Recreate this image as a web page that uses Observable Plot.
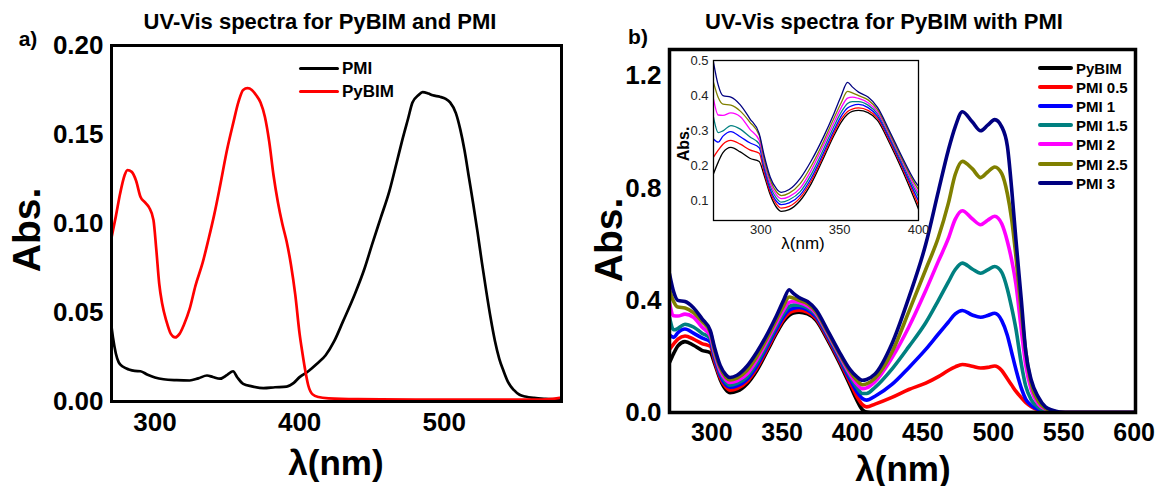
<!DOCTYPE html>
<html><head><meta charset="utf-8">
<script src="https://cdn.jsdelivr.net/npm/d3@7"></script>
<script src="https://cdn.jsdelivr.net/npm/@observablehq/plot@0.6"></script>
<style>
body{margin:0;background:#fff;}
#root{position:relative;width:1157px;height:486px;overflow:hidden;background:#fff;font-family:"Liberation Sans",Arial,sans-serif;}
.t{position:absolute;white-space:nowrap;font-weight:bold;color:#000;line-height:1;}
.c{transform:translate(-50%,-50%);}
.r{transform:translate(-50%,-50%) rotate(-90deg);}
.box{position:absolute;}
</style></head><body><div id="root"></div>
<script>
// ---------- Panel a data ----------
const titleA = "UV-Vis spectra for PyBIM and PMI";
const seriesA = ["PMI", "PyBIM"];
const colorsA = ["#000000", "#ff0000"];
const xTicksA = [300, 400, 500];
const yTicksA = [0, 0.05, 0.10, 0.15, 0.20];
const wlA_PMI = [270,271,273,275,278,282,286,290,295,300,306,315,324,330,336,340,345,350,354,357,361,367,375,383,391,396,400,406,412,418,424,430,438,445,450,456,462,467,471,475,478,482,485,489,492,497,501,504,508,511,514,517,520,523,526,529,532,535,538,541,544,548,552,556,562,570,581];
const absA_PMI = [0.042,0.036,0.027,0.022,0.0195,0.018,0.0172,0.017,0.015,0.0135,0.0125,0.012,0.0118,0.013,0.0146,0.0138,0.0128,0.015,0.017,0.0135,0.0099,0.0085,0.0075,0.008,0.0084,0.0105,0.0137,0.017,0.0212,0.026,0.034,0.045,0.060,0.075,0.088,0.103,0.118,0.134,0.147,0.159,0.168,0.172,0.1738,0.173,0.172,0.1712,0.170,0.168,0.162,0.153,0.141,0.126,0.111,0.095,0.078,0.062,0.047,0.034,0.024,0.017,0.011,0.0065,0.0038,0.0028,0.002,0.0015,0.0012];
const wlA_PyBIM = [270,273,276,279,281,284,287,290,293,296,299,301,303,305,308,311,314,317,320,324,328,333,337,341,345,350,354,358,361,364,367,370,373,376,379,382,385,388,391,394,397,400,402,404,406,409,413,420,440,480,520,560,575,581];
const absA_PyBIM = [0.092,0.104,0.117,0.127,0.130,0.129,0.124,0.115,0.112,0.109,0.102,0.085,0.066,0.055,0.045,0.038,0.036,0.038,0.043,0.052,0.065,0.078,0.091,0.105,0.121,0.142,0.156,0.169,0.175,0.176,0.175,0.172,0.168,0.160,0.146,0.127,0.112,0.100,0.090,0.077,0.060,0.038,0.027,0.017,0.009,0.004,0.0025,0.0018,0.0013,0.0011,0.0010,0.0010,0.0015,0.0022];

// ---------- Panel b data ----------
const titleB = "UV-Vis spectra for PyBIM with PMI";
const seriesB = ["PyBIM", "PMI 0.5", "PMI 1", "PMI 1.5", "PMI 2", "PMI 2.5", "PMI 3"];
const colorsB = ["#000000", "#ff0000", "#0000ff", "#008080", "#ff00ff", "#808000", "#000080"];
const xTicksB = [300, 350, 400, 450, 500, 550, 600];
const yTicksB = [0, 0.4, 0.8, 1.2];
const xTicksInset = [300, 350, 400];
const yTicksInset = [0.1, 0.2, 0.3, 0.4, 0.5];
const wlB = [270,273,276,281,287,293,299,302,306,310,313,318,325,332,340,346,351,355,358,362,368,374,382,390,398,403,407,410,416,428,440,452,461,468,473,478,485,491,496,501,506,510,513,516,520,523,527,532,537,542,547,555,570,600];
const absB_PyBIM = [0.178,0.211,0.238,0.253,0.240,0.222,0.213,0.175,0.118,0.082, 0.071,0.076,0.102,0.150,0.225,0.283,0.325,0.347,0.355,0.358, 0.352,0.330,0.262,0.185,0.100,0.045,0.010,0.002,0,0, 0,0,0,0,0,0,0,0,0,0, 0,0,0,0,0,0,0,0,0,0, 0,0,0,0];
const absB_PMI05 = [0.225,0.245,0.262,0.273,0.262,0.246,0.236,0.185,0.125,0.091, 0.080,0.085,0.110,0.158,0.232,0.290,0.333,0.355,0.362,0.365, 0.358,0.336,0.268,0.192,0.110,0.058,0.028,0.020,0.030,0.054, 0.082,0.105,0.128,0.150,0.163,0.171,0.165,0.159,0.161,0.166, 0.150,0.120,0.098,0.076,0.052,0.036,0.021,0.009,0.003,0.001, 0,0,0,0];
const absB_PMI1 = [0.277,0.268,0.285,0.298,0.283,0.266,0.252,0.195,0.133,0.099, 0.090,0.095,0.118,0.166,0.240,0.298,0.342,0.365,0.372,0.375, 0.366,0.342,0.274,0.198,0.120,0.075,0.050,0.044,0.058,0.100, 0.160,0.225,0.280,0.322,0.352,0.364,0.348,0.340,0.346,0.354, 0.328,0.275,0.215,0.155,0.085,0.048,0.025,0.010,0.004,0.001, 0,0,0,0];
const absB_PMI15 = [0.339,0.295,0.300,0.315,0.305,0.283,0.263,0.205,0.142,0.108, 0.097,0.104,0.127,0.176,0.250,0.309,0.353,0.378,0.383,0.383, 0.373,0.348,0.280,0.205,0.130,0.090,0.068,0.068,0.090,0.155, 0.235,0.320,0.400,0.465,0.510,0.533,0.512,0.497,0.509,0.521, 0.500,0.440,0.375,0.300,0.170,0.095,0.045,0.018,0.007,0.002, 0,0,0,0];
const absB_PMI2 = [0.391,0.345,0.344,0.351,0.340,0.305,0.273,0.213,0.150,0.117, 0.107,0.113,0.137,0.188,0.262,0.320,0.366,0.393,0.396,0.392, 0.380,0.354,0.285,0.211,0.138,0.102,0.085,0.088,0.110,0.195, 0.305,0.435,0.540,0.620,0.690,0.720,0.691,0.670,0.686,0.700, 0.673,0.610,0.545,0.460,0.290,0.170,0.080,0.030,0.012,0.004, 0.001,0,0,0];
const absB_PMI25 = [0.438,0.395,0.376,0.373,0.356,0.325,0.287,0.222,0.160,0.126, 0.116,0.123,0.150,0.200,0.272,0.332,0.380,0.412,0.408,0.400, 0.388,0.360,0.290,0.216,0.147,0.115,0.099,0.102,0.122,0.215, 0.360,0.510,0.625,0.745,0.850,0.896,0.870,0.838,0.858,0.876, 0.852,0.780,0.690,0.560,0.355,0.220,0.100,0.040,0.014,0.005, 0.001,0,0,0];
const absB_PMI3 = [0.495,0.430,0.400,0.396,0.374,0.335,0.292,0.232,0.168,0.135, 0.125,0.133,0.165,0.215,0.285,0.345,0.400,0.438,0.425,0.410, 0.396,0.367,0.296,0.222,0.155,0.128,0.115,0.118,0.137,0.245, 0.410,0.600,0.790,0.935,1.020,1.073,1.037,1.005,1.025,1.045, 1.019,0.950,0.800,0.620,0.395,0.220,0.115,0.055,0.020,0.008, 0.002,0,0,0];

// ---------- build tables ----------
function rows(name, wl, vals){ return wl.map((w,i)=>({wl:w, abs:vals[i], series:name})); }
const dataA = [...rows("PMI", wlA_PMI, absA_PMI), ...rows("PyBIM", wlA_PyBIM, absA_PyBIM)];
const valsB = [absB_PyBIM, absB_PMI05, absB_PMI1, absB_PMI15, absB_PMI2, absB_PMI25, absB_PMI3];
const dataB = seriesB.flatMap((s,i)=>rows(s, wlB, valsB[i]));
const dataInset = dataB.filter(d => d.wl <= 410);

const FONT = "'Liberation Sans', Arial, sans-serif";
const root = document.getElementById("root");
function place(el, left, top){ const d=document.createElement("div"); d.className="box"; d.style.left=left+"px"; d.style.top=top+"px"; d.appendChild(el); root.appendChild(d); }
function text(str, x, y, size, cls, weight){ const d=document.createElement("div"); d.className="t "+(cls||""); d.style.left=x+"px"; d.style.top=y+"px"; d.style.fontSize=size+"px"; if(weight) d.style.fontWeight=weight; d.textContent=str; root.appendChild(d); return d; }

// ---------- Panel a ----------
const plotA = Plot.plot({
  width: 580, height: 486,
  marginLeft: 111, marginRight: 19, marginTop: 45, marginBottom: 85,
  style: {fontFamily: FONT, background: "transparent", overflow: "visible"},
  x: {domain: [270, 581]},
  y: {domain: [0, 0.2]},
  color: {domain: seriesA, range: colorsA},
  marks: [
    Plot.axisY({ticks: yTicksA, tickSize: 0, tickPadding: 8, fontSize: 26, fontWeight: "bold", tickFormat: d3.format(".2f"), label: null}),
    Plot.axisX({ticks: xTicksA, tickSize: 0, tickPadding: 11, fontSize: 26, fontWeight: "bold", label: null}),
    Plot.line(dataA, {x: "wl", y: "abs", z: "series", stroke: "series", strokeWidth: 2.7, curve: "monotone-x"}),
    Plot.frame({strokeWidth: 3})
  ]
});
place(plotA, 0, 0);

// ---------- Panel b ----------
const plotB = Plot.plot({
  width: 577, height: 486,
  marginLeft: 89, marginRight: 22, marginTop: 49, marginBottom: 74,
  style: {fontFamily: FONT, background: "transparent", overflow: "visible"},
  x: {domain: [270, 601]},
  y: {domain: [0, 1.295]},
  color: {domain: seriesB, range: colorsB},
  marks: [
    Plot.axisY({ticks: yTicksB, tickSize: 0, tickPadding: 8, fontSize: 26, fontWeight: "bold", tickFormat: d3.format(".1f"), label: null}),
    Plot.axisX({ticks: xTicksB, tickSize: 0, tickPadding: 11, fontSize: 25, fontWeight: "bold", label: null}),
    Plot.line(dataB, {x: "wl", y: "abs", z: "series", stroke: "series", strokeWidth: 3.6, curve: "monotone-x", clip: true}),
    Plot.frame({strokeWidth: 3.5})
  ]
});
place(plotB, 580, 0);

// ---------- Inset ----------
const plotI = Plot.plot({
  width: 250, height: 200,
  marginLeft: 33, marginRight: 12, marginTop: 10, marginBottom: 30,
  style: {fontFamily: FONT, background: "transparent", overflow: "visible"},
  x: {domain: [270, 400]},
  y: {domain: [0.045, 0.5]},
  color: {domain: seriesB, range: colorsB},
  marks: [
    Plot.frame({fill: "white", stroke: null}),
    Plot.axisY({ticks: yTicksInset, tickSize: 0, tickPadding: 5, fontSize: 13, fill: "#222", tickFormat: d3.format(".1f"), label: null}),
    Plot.axisX({ticks: xTicksInset, tickSize: 0, tickPadding: 4, fontSize: 13, fill: "#222", label: null}),
    Plot.line(dataInset, {x: "wl", y: "abs", z: "series", stroke: "series", strokeWidth: 1.3, curve: "monotone-x", clip: true}),
    Plot.frame({strokeWidth: 1.3})
  ]
});
place(plotI, 680, 50);

// ---------- Text ----------
text(titleA, 320, 22, 22, "c");
text("a)", 28, 38, 21, "c");
text("Abs.", 26, 230, 39, "r");
text("λ(nm)", 336, 462, 35, "c");

text(titleB, 884, 22, 22, "c");
text("b)", 638, 36, 21, "c");
text("Abs.", 608, 240, 39, "r");
text("λ(nm)", 903, 468, 35, "c");

text("Abs.", 684, 144, 16, "r");
text("λ(nm)", 803, 243, 17, "c", "normal");

// ---------- Legends ----------
function legend(names, colors, lineX, lineW, textX, y0, dy, size, thick){
  names.forEach((n,i)=>{
    const y = y0 + i*dy;
    const l = document.createElement("div");
    l.style.cssText = `position:absolute;left:${lineX}px;top:${y - thick/2}px;width:${lineW}px;height:${thick}px;background:${colors[i]};border-radius:${thick/2}px;`;
    root.appendChild(l);
    const t = text(n, textX, y, size, "");
    t.style.transform = "translateY(-50%)";
  });
}
legend(seriesA, colorsA, 299, 40, 342, 68, 23, 17, 3);
legend(seriesB, colorsB, 1038, 35, 1076, 68, 19.1, 15, 4);
</script></body></html>
